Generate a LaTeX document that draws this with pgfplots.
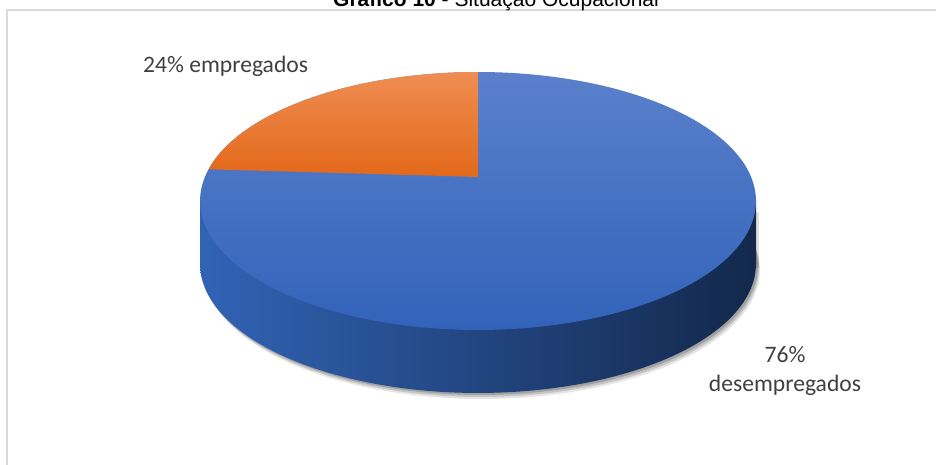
\documentclass[border=0pt]{standalone}
\usepackage{pgfplots}
\pgfplotsset{compat=1.18}
\usepackage{fontspec}
\setmainfont{Carlito}
\newfontfamily\arialfont{Liberation Sans}
\definecolor{topL}{HTML}{5A80CB}
\definecolor{topD}{HTML}{3263BA}
\definecolor{orL}{HTML}{EF8D52}
\definecolor{orD}{HTML}{E3681A}
\definecolor{sideL}{HTML}{3163B5}
\definecolor{sideM}{HTML}{1C3768}
\definecolor{sideR}{HTML}{13284B}
\definecolor{lblgray}{HTML}{404040}
\definecolor{framegray}{HTML}{D9D9D9}
% data (percent)
\def\vDes{76}
\def\vEmp{24}
\begin{document}
\begin{tikzpicture}[
  declare function={
    px(\t)=478+273.1*cos(\t)/(1+0.186*sin(\t));
    py(\t)=464-(177-91.6*sin(\t))/(1+0.186*sin(\t));
  }]
\pgfmathsetmacro\endEmp{90+3.6*\vEmp}
\begin{axis}[
  x=1pt, y=1pt, xmin=0, xmax=936, ymin=0, ymax=464,
  hide axis, clip=false, samples=241, variable=\t]
% frame
\draw[framegray, line width=1.4pt] (axis cs:7,-20) -- (axis cs:7,454) -- (axis cs:960,454);
% shadow
\addplot[draw=none, fill=black, fill opacity=0.10, domain=0:360] ({px(\t)+4},{py(\t)-63-6}) -- cycle;
\addplot[draw=none, fill=black, fill opacity=0.14, domain=0:360] ({px(\t)+3},{py(\t)-63-4}) -- cycle;
\addplot[draw=none, fill=black, fill opacity=0.18, domain=0:360] ({px(\t)+2},{py(\t)-63-2}) -- cycle;
\addplot[draw=none, fill=black, fill opacity=0.12] coordinates {(203,252) (759,252) (759,196) (203,196)} -- cycle;
% side
\addplot[draw=none, left color=sideL, middle color=sideM, right color=sideR, domain=0:360] ({px(\t)},{py(\t)-63}) -- cycle;
\addplot[draw=none, left color=sideL, middle color=sideM, right color=sideR] coordinates {(200,263.2) (756.1,263.2) (756.1,200.2) (200,200.2)} -- cycle;
% top face: desempregados (76%)
\addplot[draw=none, top color=topL, bottom color=topD, domain=0:360] ({px(\t)},{py(\t)}) -- cycle;
% empregados (24%)
\addplot[draw=none, top color=orL, bottom color=orD, domain=90:\endEmp] ({px(\t)},{py(\t)}) -- (axis cs:478,287) -- cycle;
% labels
\node[anchor=base west, text=lblgray, font=\fontsize{23.6}{29}\selectfont, inner sep=0pt] at (axis cs:143,391) {24\% empregados};
\node[anchor=base, text=lblgray, font=\fontsize{23.6}{29}\selectfont, inner sep=0pt] at (axis cs:785,102) {76\%};
\node[anchor=base, text=lblgray, font=\fontsize{23.6}{29}\selectfont, inner sep=0pt] at (axis cs:785,73) {desempregados};
% title (partly cut by the top edge, as in the reference)
\node[anchor=base, font=\arialfont\fontsize{21}{25}\selectfont, inner sep=0pt] at (axis cs:496,457) {\textbf{Gráfico 10} - Situação Ocupacional};
\coordinate (bbsw) at (axis cs:0,0);
\coordinate (bbne) at (axis cs:936,464);
\end{axis}
\pgfresetboundingbox
\path[use as bounding box] (bbsw) rectangle (bbne);
\end{tikzpicture}
\end{document}
